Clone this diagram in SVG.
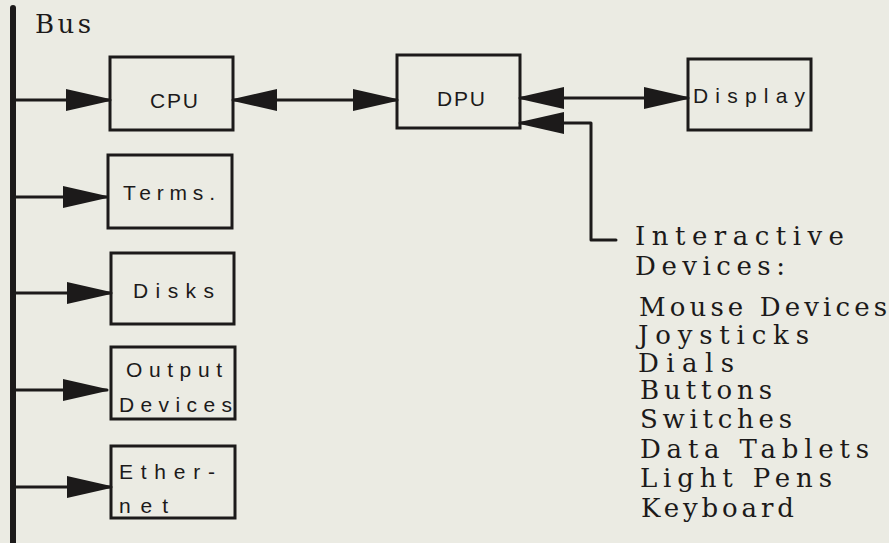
<svg xmlns="http://www.w3.org/2000/svg" width="889" height="543" viewBox="0 0 889 543">
  <defs>
    <marker id="arrow" markerUnits="userSpaceOnUse" markerWidth="46" markerHeight="24" refX="44" refY="11" orient="auto-start-reverse">
      <path d="M0,0 L44,10 L44,12 L0,22 Z" fill="#1c1a1a"/>
    </marker>
    <style>
      .box { fill: none; stroke: #1c1a1a; stroke-width: 3; }
      .wire { fill: none; stroke: #1c1a1a; stroke-width: 3; stroke-linejoin: round; stroke-linecap: round; }
      .lbl { font-family: "Liberation Sans", Arial, sans-serif; font-size: 21px; fill: #1c1a1a; }
      .serif { font-family: "DejaVu Serif", "Liberation Serif", serif; font-size: 26px; fill: #1c1a1a; }
    </style>
  </defs>

  <rect width="889" height="543" fill="#ebebe3"/>

  <!-- system bus -->
  <g id="bus">
    <line x1="13" y1="8" x2="13" y2="543" stroke="#1c1a1a" stroke-width="6" stroke-linecap="round"/>
    <text class="serif" x="35" y="33" font-size="27" textLength="56" lengthAdjust="spacing">Bus</text>
  </g>

  <!-- connectors -->
  <g id="connectors">
    <line class="wire" x1="14" y1="100" x2="110" y2="100" marker-end="url(#arrow)"/>
    <line class="wire" x1="14" y1="197" x2="107" y2="197" marker-end="url(#arrow)"/>
    <line class="wire" x1="14" y1="293" x2="111" y2="293" marker-end="url(#arrow)"/>
    <line class="wire" x1="14" y1="390" x2="107" y2="390" marker-end="url(#arrow)"/>
    <line class="wire" x1="14" y1="487" x2="111" y2="487" marker-end="url(#arrow)"/>
    <line class="wire" x1="233" y1="100" x2="397" y2="100" marker-start="url(#arrow)" marker-end="url(#arrow)"/>
    <line class="wire" x1="520" y1="98" x2="688" y2="98" marker-start="url(#arrow)" marker-end="url(#arrow)"/>
    <path class="wire" d="M616,240 L591,240 L591,123 L520,123" marker-end="url(#arrow)"/>
  </g>

  <g id="cpu">
    <rect class="box" x="110" y="57" width="123" height="73"/>
    <text class="lbl" x="150" y="108" textLength="48" lengthAdjust="spacing">CPU</text>
  </g>

  <g id="dpu">
    <rect class="box" x="397" y="55" width="123" height="73"/>
    <text class="lbl" x="437" y="106" textLength="48" lengthAdjust="spacing">DPU</text>
  </g>

  <g id="display">
    <rect class="box" x="688" y="59" width="123" height="71"/>
    <text class="lbl" x="693" y="103" textLength="112" lengthAdjust="spacing">Display</text>
  </g>

  <g id="terms">
    <rect class="box" x="108" y="155" width="124" height="73"/>
    <text class="lbl" x="123" y="200" textLength="92" lengthAdjust="spacing">Terms.</text>
  </g>

  <g id="disks">
    <rect class="box" x="111" y="253" width="123" height="71"/>
    <text class="lbl" x="133" y="298" textLength="81" lengthAdjust="spacing">Disks</text>
  </g>

  <g id="output-devices">
    <rect class="box" x="111" y="347" width="124" height="72"/>
    <text class="lbl" x="126" y="377" textLength="96" lengthAdjust="spacing">Output</text>
    <text class="lbl" x="119" y="412" textLength="113" lengthAdjust="spacing">Devices</text>
  </g>

  <g id="ethernet">
    <rect class="box" x="111" y="446" width="124" height="72"/>
    <text class="lbl" x="119" y="479" textLength="96" lengthAdjust="spacing">Ether-</text>
    <text class="lbl" x="119" y="513" textLength="49" lengthAdjust="spacing">net</text>
  </g>

  <!-- input device list -->
  <g id="interactive-devices">
    <text class="serif" x="635" y="245" textLength="209" lengthAdjust="spacing">Interactive</text>
    <text class="serif" x="635" y="275" textLength="150" lengthAdjust="spacing">Devices:</text>
    <text class="serif" x="639" y="316" textLength="248" lengthAdjust="spacing">Mouse Devices</text>
    <text class="serif" x="638" y="344" textLength="171" lengthAdjust="spacing">Joysticks</text>
    <text class="serif" x="638" y="372" textLength="96" lengthAdjust="spacing">Dials</text>
    <text class="serif" x="640" y="399" textLength="132" lengthAdjust="spacing">Buttons</text>
    <text class="serif" x="640" y="428" textLength="152" lengthAdjust="spacing">Switches</text>
    <text class="serif" x="640" y="458" textLength="229" lengthAdjust="spacing">Data Tablets</text>
    <text class="serif" x="640" y="487" textLength="192" lengthAdjust="spacing">Light Pens</text>
    <text class="serif" x="641" y="517" textLength="153" lengthAdjust="spacing">Keyboard</text>
  </g>
</svg>
